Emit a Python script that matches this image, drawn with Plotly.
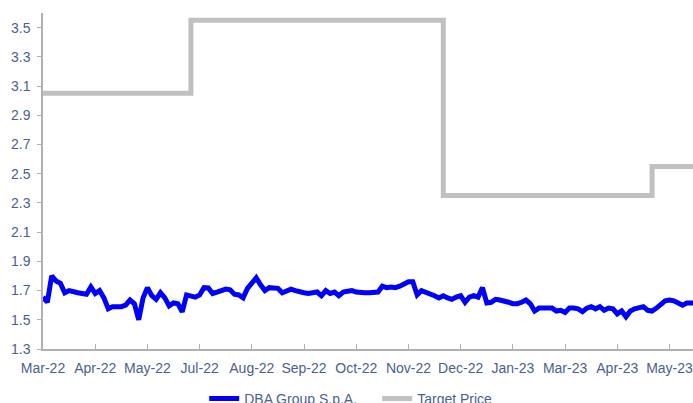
import plotly.graph_objects as go

# Share price (EUR), sampled uniformly along the category axis (12 samples per label step)
dba_price = [
    1.656, 1.62, 1.80, 1.766, 1.75, 1.685, 1.70, 1.69, 1.685, 1.68,
    1.675, 1.725, 1.68, 1.70, 1.65, 1.575, 1.59, 1.59, 1.59, 1.60,
    1.635, 1.61, 1.50, 1.65, 1.72, 1.665, 1.64, 1.685, 1.65, 1.595,
    1.615, 1.61, 1.555, 1.67, 1.66, 1.655, 1.67, 1.72, 1.718, 1.68,
    1.69, 1.70, 1.71, 1.705, 1.675, 1.67, 1.65, 1.715, 1.75, 1.787,
    1.74, 1.70, 1.72, 1.72, 1.715, 1.685, 1.70, 1.71, 1.70, 1.69,
    1.685, 1.68, 1.685, 1.69, 1.665, 1.70, 1.68, 1.69, 1.665, 1.69,
    1.695, 1.70, 1.69, 1.685, 1.685, 1.685, 1.685, 1.69, 1.73, 1.72,
    1.725, 1.72, 1.73, 1.75, 1.76, 1.76, 1.67, 1.70, 1.69, 1.68,
    1.665, 1.65, 1.665, 1.65, 1.64, 1.655, 1.665, 1.62, 1.655, 1.665,
    1.655, 1.72, 1.615, 1.62, 1.64, 1.635, 1.63, 1.62, 1.61, 1.61,
    1.62, 1.635, 1.61, 1.56, 1.58, 1.58, 1.58, 1.58, 1.56, 1.565,
    1.55, 1.58, 1.58, 1.575, 1.555, 1.58, 1.59, 1.575, 1.59, 1.565,
    1.58, 1.575, 1.54, 1.56, 1.52, 1.56, 1.575, 1.58, 1.59, 1.565,
    1.56, 1.58, 1.60, 1.63, 1.635, 1.63, 1.615, 1.60, 1.615, 1.615,
    1.615,
]

# Target price history: value and the sample index where it took effect
target_values = [3.05, 3.55, 2.35, 2.55]
target_starts = [0, 34, 92, 140]

tick_labels = ["Mar-22", "Apr-22", "May-22", "Jul-22", "Aug-22", "Sep-22", "Oct-22",
               "Nov-22", "Dec-22", "Jan-23", "Mar-23", "Apr-23", "May-23"]
samples_per_label = 12

n = len(dba_price)
x_idx = list(range(n))

target_series = []
for i in range(n):
    v = target_values[0]
    for s, tv in zip(target_starts, target_values):
        if i >= s:
            v = tv
    target_series.append(v)

label_color = "#4a5f8f"
axis_color = "#b0b0b0"

fig = go.Figure()
fig.add_trace(go.Scatter(
    x=x_idx, y=dba_price, mode="lines", name="DBA Group S.p.A.",
    line=dict(color="#0000ff", width=5),
))
fig.add_trace(go.Scatter(
    x=x_idx, y=target_series, mode="lines", name="Target Price",
    line=dict(color="#c0c0c0", width=5, shape="hv"),
))

# The figure is a little taller than the window so that the legend is cut at the
# bottom edge, as in the reference.
fig.update_layout(
    width=693, height=415,
    margin=dict(l=43, r=0, t=13, b=66),
    paper_bgcolor="white", plot_bgcolor="white",
    font=dict(family="Liberation Sans, Arial, sans-serif", size=14, color=label_color),
    showlegend=True,
    legend=dict(
        orientation="h", x=0.248, xanchor="left", y=-0.149, yanchor="middle",
        entrywidth=128,
        font=dict(size=14, color=label_color), bgcolor="rgba(0,0,0,0)",
    ),
    xaxis=dict(
        range=[0, 149.4],
        automargin=False,
        ticklabeloverflow="allow",
        ticklabelstandoff=5,
        tickmode="array",
        tickvals=[k * samples_per_label for k in range(len(tick_labels))],
        ticktext=tick_labels,
        showgrid=False, zeroline=False,
        showline=True, linecolor=axis_color, linewidth=1.5,
        ticks="inside", ticklen=5, tickcolor=axis_color, tickwidth=1,
        tickfont=dict(size=14, color=label_color),
    ),
    yaxis=dict(
        range=[1.3, 3.6],
        automargin=False,
        ticklabelstandoff=4,
        tickmode="array",
        tickvals=[1.3, 1.5, 1.7, 1.9, 2.1, 2.3, 2.5, 2.7, 2.9, 3.1, 3.3, 3.5],
        ticktext=["1.3", "1.5", "1.7", "1.9", "2.1", "2.3", "2.5", "2.7", "2.9", "3.1", "3.3", "3.5"],
        showgrid=False, zeroline=False,
        showline=True, linecolor=axis_color, linewidth=1.5,
        ticks="outside", ticklen=4, tickcolor=axis_color, tickwidth=1,
        tickfont=dict(size=14, color=label_color),
    ),
)

fig.write_html(
    "out.html",
    config={"displayModeBar": False},
    post_script="document.body.style.margin='0';document.documentElement.style.overflow='hidden';",
)
